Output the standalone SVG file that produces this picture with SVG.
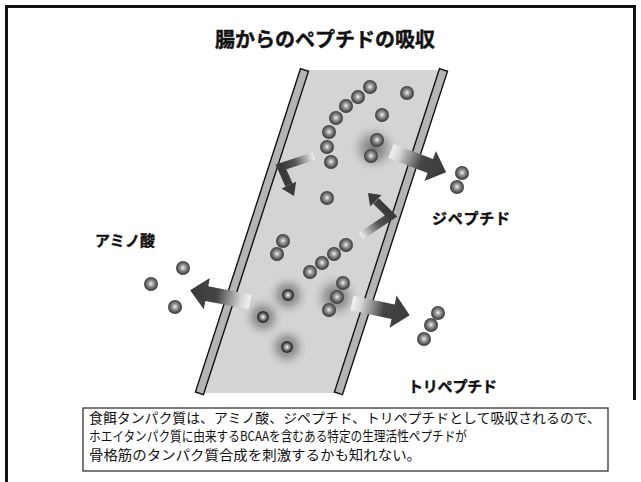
<svg xmlns="http://www.w3.org/2000/svg" width="641" height="482" viewBox="0 0 641 482">
  <style>
    .jp { font-family: "Noto Sans CJK JP", "Liberation Sans", sans-serif; fill: #111; }
    .title { font-size: 20px; font-weight: bold; }
    .label { font-size: 15px; font-weight: bold; }
    .note { font-size: 13.5px; }
    .ball { fill: url(#ballG); }
    .gball { fill: url(#gballG); }
    .halo { fill: url(#haloG); }
    .wall { fill: #b4b4b4; stroke: #111; stroke-width: 1.4; }
    .arrow { fill: url(#arrowG); }
  </style>
  <defs>
    <radialGradient id="ballG" cx="50%" cy="48%" r="55%">
      <stop offset="0" stop-color="#f2f2f2"/>
      <stop offset="0.35" stop-color="#9a9a9a"/>
      <stop offset="0.75" stop-color="#505050"/>
      <stop offset="1" stop-color="#333"/>
    </radialGradient>
    <radialGradient id="gballG" cx="50%" cy="50%" r="55%">
      <stop offset="0" stop-color="#ffffff"/>
      <stop offset="0.3" stop-color="#a8a8a8"/>
      <stop offset="0.7" stop-color="#3c3c3c"/>
      <stop offset="1" stop-color="#2a2a2a"/>
    </radialGradient>
    <radialGradient id="haloG" cx="50%" cy="50%" r="50%">
      <stop offset="0" stop-color="#6a6a6a" stop-opacity="0.95"/>
      <stop offset="0.45" stop-color="#888" stop-opacity="0.65"/>
      <stop offset="1" stop-color="#d4d4d4" stop-opacity="0"/>
    </radialGradient>
    <linearGradient id="arrowG" x1="0" y1="0" x2="1" y2="0">
      <stop offset="0" stop-color="#f2f2f2"/>
      <stop offset="0.15" stop-color="#d6d6d6"/>
      <stop offset="0.55" stop-color="#454545"/>
      <stop offset="1" stop-color="#3a3a3a"/>
    </linearGradient>
    <linearGradient id="elbowG1" gradientUnits="userSpaceOnUse" x1="314" y1="156" x2="282" y2="167">
      <stop offset="0" stop-color="#f0f0f0"/>
      <stop offset="0.6" stop-color="#555"/>
      <stop offset="1" stop-color="#3a3a3a"/>
    </linearGradient>
    <linearGradient id="elbowG2" gradientUnits="userSpaceOnUse" x1="361" y1="236" x2="390" y2="216">
      <stop offset="0" stop-color="#f0f0f0"/>
      <stop offset="0.6" stop-color="#555"/>
      <stop offset="1" stop-color="#3a3a3a"/>
    </linearGradient>
  </defs>

  <rect width="641" height="482" fill="#fff"/>
  <!-- page frame -->
  <path d="M6.5,482 V6.5 H634.5 V400" fill="none" stroke="#111" stroke-width="3"/>

  <g id="title">
    <text class="jp title" x="325" y="47" text-anchor="middle" stroke="#111" stroke-width="0.4">腸からのペプチドの吸収</text>
  </g>

  <!-- intestine wall section -->
  <g id="intestine">
    <polygon points="304,70 443,70 338,393 199,393" fill="#d4d4d4"/>
    <rect class="wall" x="-4.2" y="0" width="8.4" height="340" transform="translate(304.5,70) rotate(18)"/>
    <rect class="wall" x="-4.2" y="0" width="8.4" height="340" transform="translate(443.5,70) rotate(18)"/>
  </g>

  <!-- glow around absorbed peptides -->
  <g id="halos">
    <circle class="halo" cx="374" cy="148" r="26"/>
    <circle class="halo" cx="336" cy="297" r="25"/>
    <circle class="halo" cx="288" cy="295" r="22"/>
    <circle class="halo" cx="263" cy="317" r="22"/>
    <circle class="halo" cx="287" cy="347" r="22"/>
  </g>

  <g id="connectors">
    <!-- dipeptide out -->
    <polygon class="arrow" points="0,-7.5 42,-7.5 42,-16 59,0 42,16 42,7.5 0,7.5" transform="translate(391,151) rotate(21)"/>
    <!-- tripeptide out -->
    <polygon class="arrow" points="0,-7.5 42,-7.5 42,-16.5 59,0 42,16.5 42,7.5 0,7.5" transform="translate(352,303) rotate(12)"/>
    <!-- amino acid out -->
    <polygon class="arrow" points="0,-7.5 44,-7.5 44,-16 61,0 44,16 44,7.5 0,7.5" transform="translate(250,302) rotate(191)"/>
    <!-- elbow arrow, upper left -->
    <path d="M314,156 L281,167 L289,185" fill="none" stroke="url(#elbowG1)" stroke-width="8" stroke-linejoin="miter"/>
    <polygon points="294,196 281.6,188.5 296.1,181.7" fill="#3a3a3a"/>
    <!-- elbow arrow, lower right -->
    <path d="M361,236 L391,216 L376,201" fill="none" stroke="url(#elbowG2)" stroke-width="8" stroke-linejoin="miter"/>
    <polygon points="368,193 381.5,195.1 370.1,206.5" fill="#3a3a3a"/>
  </g>

  <!-- peptide chains inside the lumen -->
  <g id="lumen-peptides">
    <circle class="ball" cx="370" cy="87" r="7"/>
    <circle class="ball" cx="358" cy="97" r="7"/>
    <circle class="ball" cx="346" cy="106" r="7"/>
    <circle class="ball" cx="336" cy="118" r="7"/>
    <circle class="ball" cx="329" cy="132" r="7"/>
    <circle class="ball" cx="327" cy="147" r="7"/>
    <circle class="ball" cx="331" cy="162" r="7"/>
    <circle class="ball" cx="407" cy="93" r="7"/>
    <circle class="ball" cx="382" cy="115" r="7"/>
    <circle class="ball" cx="377" cy="140" r="7"/>
    <circle class="ball" cx="371" cy="156" r="7"/>
    <circle class="ball" cx="327" cy="198" r="7"/>
    <circle class="ball" cx="283" cy="241" r="7"/>
    <circle class="ball" cx="277" cy="254" r="7"/>
    <circle class="ball" cx="346" cy="245" r="7"/>
    <circle class="ball" cx="334" cy="254" r="7"/>
    <circle class="ball" cx="322" cy="263" r="7"/>
    <circle class="ball" cx="310" cy="272" r="7"/>
    <circle class="ball" cx="343" cy="283" r="7"/>
    <circle class="ball" cx="337" cy="297" r="7"/>
    <circle class="ball" cx="329" cy="310" r="7"/>
    <circle class="gball" cx="288" cy="295" r="6"/>
    <circle class="gball" cx="263" cy="317" r="6"/>
    <circle class="gball" cx="287" cy="347" r="6"/>
  </g>

  <g id="amino-acid">
    <circle class="ball" cx="183" cy="268" r="7"/>
    <circle class="ball" cx="151" cy="284" r="7"/>
    <circle class="ball" cx="175" cy="307" r="7"/>
    <text class="jp label" x="95" y="246" textLength="60" stroke="#111" stroke-width="0.4">アミノ酸</text>
  </g>

  <g id="dipeptide">
    <circle class="ball" cx="462" cy="173" r="7"/>
    <circle class="ball" cx="457" cy="187" r="7"/>
    <text class="jp label" x="432" y="224" textLength="78" stroke="#111" stroke-width="0.4">ジペプチド</text>
  </g>

  <g id="tripeptide">
    <circle class="ball" cx="438" cy="313" r="7"/>
    <circle class="ball" cx="431" cy="325" r="7"/>
    <circle class="ball" cx="424" cy="339" r="7"/>
    <text class="jp label" x="408" y="392" textLength="89" stroke="#111" stroke-width="0.4">トリペプチド</text>
  </g>

  <g id="note">
    <rect x="83" y="408" width="525" height="63" fill="#fff" stroke="#333" stroke-width="1.3"/>
    <text class="jp note" x="89" y="422.5" textLength="512" lengthAdjust="spacingAndGlyphs">食餌タンパク質は、アミノ酸、ジペプチド、トリペプチドとして吸収されるので、</text>
    <text class="jp note" x="89" y="440.5" textLength="378" lengthAdjust="spacingAndGlyphs">ホエイタンパク質に由来するBCAAを含むある特定の生理活性ペプチドが</text>
    <text class="jp note" x="89" y="459.5" textLength="332" lengthAdjust="spacingAndGlyphs">骨格筋のタンパク質合成を刺激するかも知れない。</text>
  </g>
</svg>
